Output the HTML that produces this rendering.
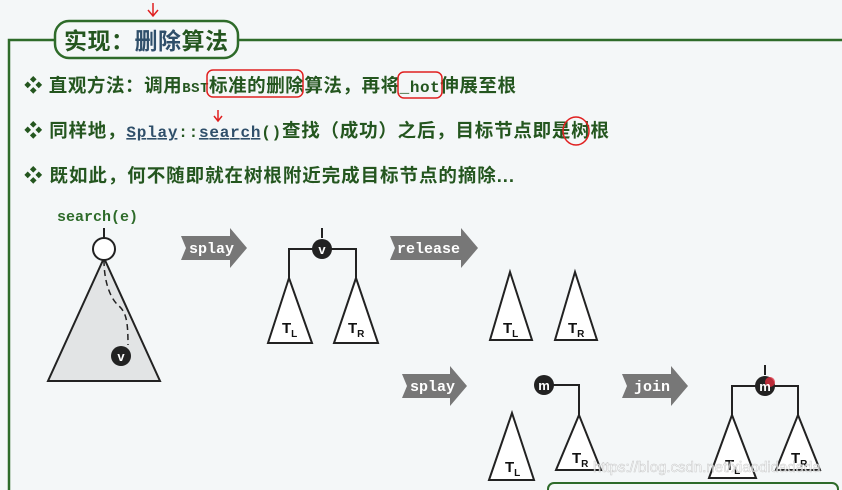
<!DOCTYPE html>
<html><head><meta charset="utf-8"><style>
body{margin:0;background:#f4f7f8;}
svg{display:block}
.t{font-family:"Liberation Sans","Noto Sans CJK SC",sans-serif;font-weight:bold;fill:#24561f;font-size:18.5px}
.m{font-family:"Liberation Mono",monospace;font-weight:bold}
</style></head><body>
<svg width="842" height="490" viewBox="0 0 842 490">
<rect width="842" height="490" fill="#f4f7f8"/>
<path d="M842 40 H9 V490" fill="none" stroke="#2e6b2a" stroke-width="2.5"/>
<rect x="55" y="21" width="183" height="37" rx="14" fill="#f4f7f8" stroke="#2e6b2a" stroke-width="2.5"/>
<text x="64" y="49" class="t" style="font-size:23px" textLength="164" lengthAdjust="spacing">实现：<tspan fill="#2f4f6a">删除</tspan>算法</text>
<path d="M153 3 L153 15 M148 10 L153 16 L158 10" stroke="#e02020" stroke-width="1.5" fill="none"/>
<text x="24" y="92" class="t" textLength="492" lengthAdjust="spacing">❖ 直观方法：调用<tspan class="m" style="font-size:14px">BST</tspan>标准的删除算法，再将<tspan class="m" style="font-size:16px">_hot</tspan>伸展至根</text>
<rect x="207" y="70" width="96" height="27" rx="6" fill="none" stroke="#e02020" stroke-width="1.5"/>
<rect x="398" y="72" width="44" height="26" rx="6" fill="none" stroke="#e02020" stroke-width="1.5"/>
<text x="24" y="137" class="t" textLength="585" lengthAdjust="spacing">❖ 同样地，<tspan class="m" style="font-size:16px;fill:#2f4f6a;text-decoration:underline">Splay</tspan><tspan class="m" style="font-size:16px">::</tspan><tspan class="m" style="font-size:16px;fill:#2f4f6a;text-decoration:underline">search</tspan><tspan class="m" style="font-size:16px">()</tspan>查找（成功）之后，目标节点即是树根</text>
<path d="M218 110 L218 120 M214 116 L218 121 L222 116" stroke="#e02020" stroke-width="1.5" fill="none"/>
<ellipse cx="576" cy="131" rx="13" ry="14" fill="none" stroke="#e02020" stroke-width="1.5"/>
<text x="24" y="182" class="t" textLength="490" lengthAdjust="spacing">❖ 既如此，何不随即就在树根附近完成目标节点的摘除...</text>
<text x="57" y="221" class="m" style="font-size:15px;fill:#2e6b2a">search(e)</text>
<g stroke="#222" stroke-width="2" fill="#fff">
<line x1="104" y1="228" x2="104" y2="238"/>
<polygon points="104,258 48,381 160,381" fill="#e2e4e5"/>
<circle cx="104" cy="249" r="11"/>
<path d="M104 260 C104 285 112 300 118 305 C126 312 128 320 128 345" fill="none" stroke-dasharray="6,4" stroke-width="1.5"/>
<line x1="322" y1="228" x2="322" y2="238"/>
<path d="M289 278 V249 H356 V278" fill="none"/>
<polygon points="289,278 268,343 312,343"/><polygon points="356,278 334,343 378,343"/>
<polygon points="510,272 490,340 532,340"/><polygon points="575,272 555,340 597,340"/>
<path d="M544 385 H579 V415" fill="none"/>
<polygon points="579,415 556,470 601,470"/><polygon points="512,413 489,480 534,480"/>
<line x1="765" y1="365" x2="765" y2="375"/>
<path d="M732 415 V386 H798 V415" fill="none"/>
<polygon points="732,415 709,478 756,478"/><polygon points="798,415 776,470 820,470"/>
</g>
<g fill="#222"><circle cx="121" cy="356" r="10"/><circle cx="322" cy="249" r="10"/><circle cx="544" cy="385" r="10"/><circle cx="765" cy="386" r="10"/></g>
<circle cx="770" cy="382" r="5" fill="#e03040" opacity="0.8"/>
<g font-family="Liberation Sans,sans-serif" font-weight="bold" fill="#fff" font-size="13" text-anchor="middle">
<text x="121" y="361">v</text><text x="322" y="254">v</text><text x="544" y="390">m</text><text x="765" y="391">m</text></g>
<g font-family="Liberation Sans,sans-serif" font-weight="bold" fill="#111" font-size="15">
<text x="282" y="333">T<tspan font-size="10" dy="4">L</tspan></text><text x="348" y="333">T<tspan font-size="10" dy="4">R</tspan></text>
<text x="503" y="333">T<tspan font-size="10" dy="4">L</tspan></text><text x="568" y="333">T<tspan font-size="10" dy="4">R</tspan></text>
<text x="572" y="463">T<tspan font-size="10" dy="4">R</tspan></text><text x="505" y="472">T<tspan font-size="10" dy="4">L</tspan></text>
<text x="725" y="470">T<tspan font-size="10" dy="4">L</tspan></text><text x="791" y="463">T<tspan font-size="10" dy="4">R</tspan></text></g>
<g fill="#777">
<polygon points="181,236 230,236 230,228 247,248 230,268 230,260 181,260 186,248"/>
<polygon points="390,236 461,236 461,228 478,248 461,268 461,260 390,260 395,248"/>
<polygon points="402,374 450,374 450,366 467,386 450,406 450,398 402,398 407,386"/>
<polygon points="622,374 671,374 671,366 688,386 671,406 671,398 622,398 627,386"/>
</g>
<g class="m" fill="#fff" font-size="15">
<text x="189" y="253">splay</text><text x="397" y="253">release</text><text x="410" y="391">splay</text><text x="634" y="391">join</text></g>
<rect x="548" y="483" width="290" height="14" rx="6" fill="#f4f7f8" stroke="#2e6b2a" stroke-width="2"/>
<text x="593" y="472" font-family="Liberation Sans,sans-serif" font-size="15" fill="#fff" opacity="0.8" stroke="#bbb" stroke-width="0.5">https://blog.csdn.net/xiaodidadada</text>
</svg>
</body></html>
